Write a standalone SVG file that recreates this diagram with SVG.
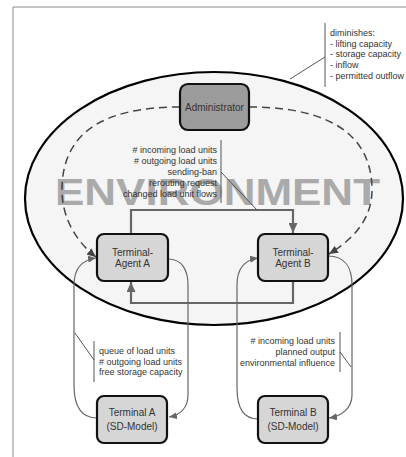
<svg xmlns="http://www.w3.org/2000/svg" width="406" height="457" viewBox="0 0 406 457">
<style>
.box{stroke:#111;stroke-width:2.2}
.agent{fill:#d6d6d6}
.admin{fill:#9c9c9c}
.lbl{font-family:"Liberation Sans",Arial,sans-serif;font-size:10px;fill:#333;text-anchor:middle}
.note{font-family:"Liberation Sans",Arial,sans-serif;font-size:9px;fill:#333}
.thick{fill:none;stroke:#666;stroke-width:2.2}
.thin{fill:none;stroke:#666;stroke-width:1.2}
.dash{fill:none;stroke:#444;stroke-width:1.5;stroke-dasharray:8 5}
.lead{fill:none;stroke:#555;stroke-width:1}
</style>
<defs>
<marker id="aThick" markerUnits="userSpaceOnUse" markerWidth="10" markerHeight="9" refX="10" refY="4.5" orient="auto">
<path d="M0,0 L10,4.5 L0,9 z" fill="#666"/>
</marker>
<marker id="aThin" markerUnits="userSpaceOnUse" markerWidth="8" markerHeight="7" refX="8" refY="3.5" orient="auto">
<path d="M0,0 L8,3.5 L0,7 z" fill="#666"/>
</marker>
<marker id="aDash" markerUnits="userSpaceOnUse" markerWidth="9" markerHeight="8" refX="9" refY="4" orient="auto">
<path d="M0,0 L9,4 L0,8 z" fill="#444"/>
</marker>
</defs>
<rect width="406" height="457" fill="#fff"/>
<path d="M13,457 L13,7 L406,7" fill="none" stroke="#888" stroke-width="1"/>
<g id="environment">
<ellipse cx="214" cy="198.5" rx="189" ry="126.5" fill="#f5f5f5" stroke="#000" stroke-width="2.2"/>
<text x="55" y="205" textLength="325" lengthAdjust="spacingAndGlyphs" font-family="'Liberation Sans',Arial,sans-serif" font-weight="bold" font-size="37.5" fill="#aaaaaa">ENVIRONMENT</text>
</g>
<g id="connectors">
<path class="dash" d="M180,107 C100,107 62,135 62,190 C62,220 78,243 96,257" marker-end="url(#aDash)"/>
<path class="dash" d="M249,107 C330,107 372,135 372,190 C372,220 352,240 329,254" marker-end="url(#aDash)"/>
<path class="thick" d="M131,234 L131,210 L293,210 L293,233" marker-end="url(#aThick)"/>
<path class="thick" d="M293,281 L293,303 L131,303 L131,282" marker-end="url(#aThick)"/>
<path class="thin" d="M97,418 C78,418 74,402 74,385 L74,285 C74,268 82,260 96,258" marker-end="url(#aThin)"/>
<path class="thin" d="M168,259 C182,259 188,270 188,285 L188,395 C188,408 180,415 169,417" marker-end="url(#aThin)"/>
<path class="thin" d="M258,419 C241,419 237,403 237,388 L237,285 C237,268 245,260 258,258" marker-end="url(#aThin)"/>
<path class="thin" d="M328,256 C345,256 352,268 352,285 L352,395 C352,408 342,416 329,418" marker-end="url(#aThin)"/>
</g>
<g id="note-diminishes">
<path class="lead" d="M325,23 L325,87 M325,57 L290,79"/>
<text class="note" x="330" y="36">diminishes:</text>
<text class="note" x="330" y="46.5">- lifting capacity</text>
<text class="note" x="330" y="57">- storage capacity</text>
<text class="note" x="330" y="68">- inflow</text>
<text class="note" x="330" y="79">- permitted outflow</text>
</g>
<g id="note-agents">
<path class="lead" d="M221,140 L221,203 M221,172 L257,210"/>
<g text-anchor="end">
<text class="note" x="217" y="153"># incoming load units</text>
<text class="note" x="217" y="164"># outgoing load units</text>
<text class="note" x="217" y="175">sending-ban</text>
<text class="note" x="217" y="186">rerouting request</text>
<text class="note" x="217" y="196.5">changed load unit flows</text>
</g>
</g>
<g id="note-terminal-a">
<path class="lead" d="M94,341 L94,382 M75,333 L94,360"/>
<text class="note" x="99" y="354">queue of load units</text>
<text class="note" x="99" y="364.5"># outgoing load units</text>
<text class="note" x="99" y="375">free storage capacity</text>
</g>
<g id="note-terminal-b">
<path class="lead" d="M340,332 L340,372 M340,352 L351,367"/>
<g text-anchor="end">
<text class="note" x="335" y="344"># incoming load units</text>
<text class="note" x="335" y="355">planned output</text>
<text class="note" x="335" y="365.5">environmental influence</text>
</g>
</g>
<g id="administrator">
<rect class="box admin" x="180" y="84" width="69" height="46" rx="8"/>
<text class="lbl" x="214.5" y="110.5">Administrator</text>
</g>
<g id="terminal-agent-a">
<rect class="box agent" x="97" y="234" width="71" height="47" rx="7"/>
<text class="lbl" x="132.5" y="255.5">Terminal-</text>
<text class="lbl" x="132.5" y="267">Agent A</text>
</g>
<g id="terminal-agent-b">
<rect class="box agent" x="258" y="234" width="70" height="47" rx="7"/>
<text class="lbl" x="293" y="255.5">Terminal-</text>
<text class="lbl" x="293" y="267">Agent B</text>
</g>
<g id="terminal-a">
<rect class="box agent" x="97" y="396" width="70" height="47" rx="7"/>
<text class="lbl" x="132" y="416">Terminal A</text>
<text class="lbl" x="132" y="429.5">(SD-Model)</text>
</g>
<g id="terminal-b">
<rect class="box agent" x="258" y="396" width="70" height="47" rx="7"/>
<text class="lbl" x="293" y="416">Terminal B</text>
<text class="lbl" x="293" y="429.5">(SD-Model)</text>
</g>
</svg>
